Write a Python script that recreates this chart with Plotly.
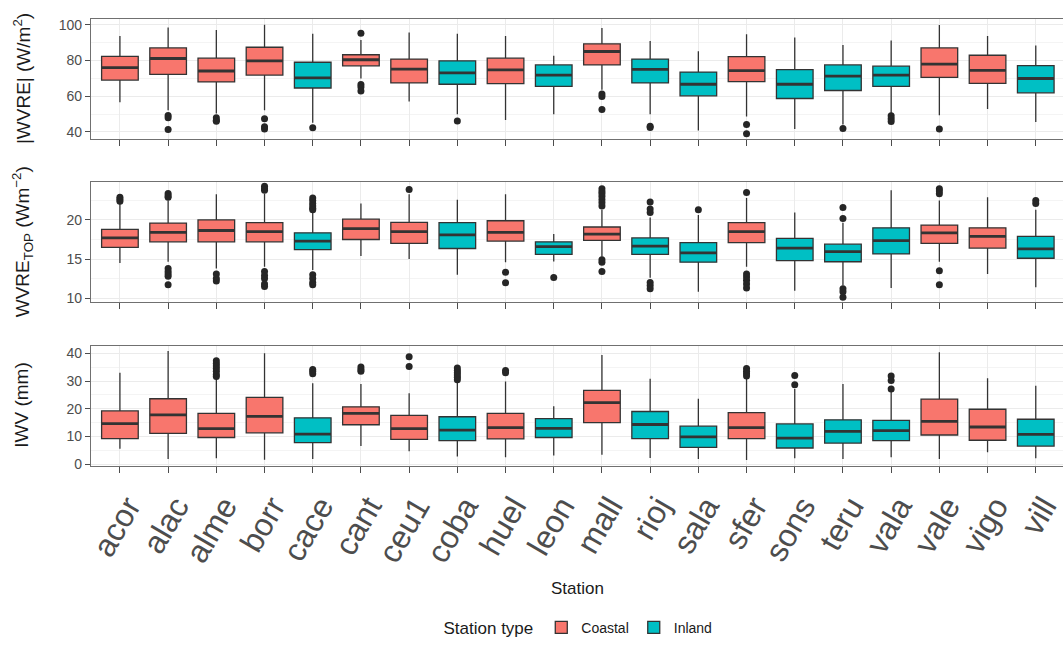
import plotly.graph_objects as go

# ---------------- data ----------------
stations = ["acor", "alac", "alme", "borr", "cace", "cant", "ceu1", "coba", "huel", "leon",
            "mall", "rioj", "sala", "sfer", "sons", "teru", "vala", "vale", "vigo", "vill"]
station_type = ["Coastal", "Coastal", "Coastal", "Coastal", "Inland", "Coastal", "Coastal", "Inland",
                "Coastal", "Inland", "Coastal", "Inland", "Inland", "Coastal", "Inland", "Inland",
                "Inland", "Coastal", "Coastal", "Inland"]

# Panel 1: |WVRE| (W/m2)
wvre_lo = [56.6, 52.2, 50.3, 52.2, 45.1, 69.9, 57.0, 49.9, 46.7, 49.9, 63.6, 49.9, 40.8, 48.6, 41.7, 44.2, 49.9, 49.3, 52.8, 45.5]
wvre_q1 = [69.0, 72.2, 68.0, 71.8, 64.6, 77.0, 67.4, 66.7, 67.0, 65.5, 77.5, 67.4, 60.2, 68.2, 58.7, 63.2, 65.5, 70.5, 67.2, 61.9]
wvre_med = [76.0, 81.1, 74.1, 79.8, 70.3, 80.4, 75.2, 73.1, 74.7, 71.8, 85.0, 75.0, 66.7, 74.3, 66.7, 71.2, 71.8, 77.9, 74.5, 69.9]
wvre_q3 = [82.3, 87.0, 81.3, 87.4, 79.0, 83.2, 80.8, 79.8, 81.3, 77.5, 89.3, 80.8, 73.5, 82.1, 74.9, 77.5, 76.8, 87.0, 82.9, 77.1]
wvre_hi = [93.7, 98.5, 97.0, 100.0, 95.0, 91.4, 95.6, 95.0, 93.7, 82.7, 98.1, 90.9, 85.1, 94.7, 92.8, 88.6, 91.2, 99.8, 93.7, 88.4]
wvre_out_station = ["alac", "alac", "alac", "alme", "alme", "alme", "borr", "borr", "borr", "cace",
                    "cant", "cant", "cant", "cant", "coba", "mall", "mall", "mall", "rioj", "rioj",
                    "sfer", "sfer", "teru", "vala", "vala", "vala", "vale"]
wvre_out_value = [49.2, 48.0, 41.3, 48.0, 46.5, 46.0, 47.4, 42.9, 41.7, 42.3,
                  95.2, 66.5, 65.1, 62.9, 46.1, 61.3, 59.8, 52.6, 43.2, 42.5,
                  44.2, 39.0, 41.9, 49.0, 47.4, 45.9, 41.7]

# Panel 2: WVRE_TOP (W m-2)
top_lo = [14.5, 14.65, 13.8, 14.0, 13.6, 15.4, 15.0, 13.0, 14.6, 14.7, 15.3, 12.6, 10.8, 14.0, 10.95, 11.6, 11.3, 14.65, 13.1, 11.4]
top_q1 = [16.5, 17.2, 17.2, 17.2, 16.2, 17.5, 17.0, 16.35, 17.3, 15.6, 17.4, 15.6, 14.6, 17.1, 14.8, 14.65, 15.65, 17.0, 16.4, 15.1]
top_med = [17.7, 18.4, 18.65, 18.5, 17.3, 18.9, 18.5, 18.1, 18.4, 16.6, 18.2, 16.65, 15.8, 18.5, 16.4, 15.95, 17.35, 18.35, 17.9, 16.3]
top_q3 = [18.8, 19.6, 20.0, 19.65, 18.35, 20.1, 19.7, 19.65, 19.9, 17.2, 19.1, 17.7, 17.1, 19.65, 17.65, 16.9, 19.0, 19.35, 19.0, 17.9]
top_hi = [22.1, 22.5, 23.3, 23.35, 21.0, 22.1, 23.3, 22.6, 23.3, 18.2, 21.3, 20.3, 20.65, 22.8, 20.95, 19.65, 23.8, 22.5, 22.9, 21.3]
top_out_station = (["acor"] * 3 + ["alac"] * 8 + ["alme"] * 3 + ["borr"] * 8 + ["cace"] * 10 +
                   ["ceu1"] + ["huel"] * 2 + ["leon"] + ["mall"] * 10 + ["rioj"] * 6 + ["sala"] +
                   ["sfer"] * 6 + ["teru"] * 5 + ["vale"] * 5 + ["vill"] * 2)
top_out_value = [22.9, 22.65, 22.4,
                 23.4, 23.1, 22.9, 13.8, 13.4, 13.1, 12.8, 11.7,
                 13.1, 12.5, 12.2,
                 24.3, 24.0, 23.8, 13.4, 12.9, 12.5, 11.8, 11.5,
                 22.8, 22.5, 22.1, 21.8, 21.5, 21.3, 13.0, 12.5, 12.0, 11.7,
                 23.9,
                 13.3, 11.96,
                 12.65,
                 24.0, 23.65, 23.35, 23.0, 22.6, 22.2, 21.8, 14.9, 14.6, 13.4,
                 22.3, 21.4, 20.95, 12.0, 11.6, 11.2,
                 21.3,
                 23.5, 13.1, 12.7, 12.3, 11.8, 11.3,
                 21.6, 20.2, 11.2, 10.8, 10.1,
                 24.0, 23.7, 23.35, 13.5, 11.7,
                 22.5, 22.1]

# Panel 3: IWV (mm)
iwv_lo = [5.5, 1.8, 2.1, 1.6, 1.8, 6.5, 4.6, 2.7, 2.5, 3.1, 3.4, 2.2, 1.8, 1.5, 2.1, 1.8, 2.5, 1.8, 4.3, 2.1]
iwv_q1 = [9.2, 11.1, 9.6, 11.3, 7.75, 14.2, 8.9, 8.5, 9.1, 9.6, 15.0, 9.2, 6.0, 9.2, 5.8, 7.6, 8.5, 10.5, 8.6, 6.5]
iwv_med = [14.6, 17.8, 12.8, 17.2, 10.8, 18.3, 12.8, 12.3, 13.2, 12.9, 22.2, 14.3, 9.8, 13.2, 9.4, 11.8, 12.1, 15.4, 13.4, 10.7]
iwv_q3 = [19.2, 23.6, 18.3, 24.1, 16.7, 20.7, 17.6, 17.1, 18.3, 16.4, 26.6, 19.0, 13.7, 18.6, 14.5, 16.0, 15.8, 23.5, 19.8, 16.2]
iwv_hi = [33.0, 40.9, 30.8, 40.0, 29.2, 28.9, 25.6, 29.5, 29.8, 20.9, 39.4, 30.8, 23.6, 30.8, 27.1, 28.9, 26.1, 40.4, 31.0, 28.3]
iwv_out_station = (["alme"] * 7 + ["cace"] * 3 + ["cant"] * 3 + ["ceu1"] * 2 + ["coba"] * 6 +
                   ["huel"] * 2 + ["sfer"] * 4 + ["sons"] * 2 + ["vala"] * 3)
iwv_out_value = [37.3, 36.3, 35.4, 34.5, 33.5, 32.4, 31.6,
                 34.2, 33.5, 32.6,
                 35.1, 34.2, 33.5,
                 38.8, 35.3,
                 34.7, 33.8, 33.0, 32.2, 31.4, 30.5,
                 33.8, 33.0,
                 34.5, 33.5, 32.6, 31.8,
                 32.0, 28.7,
                 31.8, 30.2, 27.1]

y_titles = ["|WVRE| (W/m<sup>2</sup>)", "WVRE<sub>TOP</sub> (Wm<sup>\u22122</sup>)", "IWV (mm)"]
x_title = "Station"
legend_title = "Station type"
type_colors = {"Coastal": "#F8766D", "Inland": "#00BFC4"}

# ---------------- layout geometry ----------------
W, H = 1064, 651
ML = 91
def fy(px):
    return 1 - px / H
def fx(px):
    return (px - ML) / (W - ML)

panel_px = [(17.2, 138.8), (182.7, 303.6), (347.9, 469.5)]
yranges = [[36.0, 103.2], [9.52, 24.8], [-0.6, 42.8]]
dticks = [20, 5, 10]
minor_dticks = [10, 2.5, 5]

panels = [
    (wvre_lo, wvre_q1, wvre_med, wvre_q3, wvre_hi, wvre_out_station, wvre_out_value),
    (top_lo, top_q1, top_med, top_q3, top_hi, top_out_station, top_out_value),
    (iwv_lo, iwv_q1, iwv_med, iwv_q3, iwv_hi, iwv_out_station, iwv_out_value),
]

FONT = "Liberation Sans, Arial, sans-serif"
BORDER = "#707070"
TICKC = "#4d4d4d"

fig = go.Figure()
for p, (lo, q1, med, q3, hi, ost, oval) in enumerate(panels):
    xa = "x" if p == 0 else f"x{p+1}"
    ya = "y" if p == 0 else f"y{p+1}"
    for t in ["Coastal", "Inland"]:
        idx = [i for i, s in enumerate(station_type) if s == t]
        fig.add_trace(go.Box(
            x=[stations[i] for i in idx],
            q1=[q1[i] for i in idx], median=[med[i] for i in idx], q3=[q3[i] for i in idx],
            lowerfence=[lo[i] for i in idx], upperfence=[hi[i] for i in idx],
            name=t, legendgroup=t, showlegend=(p == 0),
            fillcolor=type_colors[t], line=dict(color="#333333", width=1.3),
            whiskerwidth=0, width=0.76, boxpoints=False, hoverinfo="skip",
            xaxis=xa, yaxis=ya,
        ))
    # thicker median line (ggplot style)
    fig.add_trace(go.Scatter(
        x=stations, y=med, mode="markers", showlegend=False, hoverinfo="skip",
        marker=dict(symbol="line-ew", size=26, line=dict(width=2.8, color="#333333")),
        xaxis=xa, yaxis=ya,
    ))
    # outliers
    fig.add_trace(go.Scatter(
        x=ost, y=oval, mode="markers", showlegend=False, hoverinfo="skip",
        marker=dict(color="#262626", size=7),
        xaxis=xa, yaxis=ya,
    ))

layout = dict(
    width=W, height=H,
    margin=dict(l=ML, r=0, t=0, b=0),
    paper_bgcolor="white", plot_bgcolor="white",
    font=dict(family=FONT, color="#1a1a1a"),
    boxmode="overlay",
    legend=dict(
        orientation="h", x=fx(580), xanchor="center", y=fy(634), yanchor="middle",
        title=dict(text=legend_title, side="left", font=dict(size=17)),
        font=dict(size=14), bgcolor="rgba(0,0,0,0)",
        itemwidth=30, tracegroupgap=0,
    ),
    annotations=[],
)

for p in range(3):
    xk = "xaxis" if p == 0 else f"xaxis{p+1}"
    yk = "yaxis" if p == 0 else f"yaxis{p+1}"
    ya = "y" if p == 0 else f"y{p+1}"
    xa = "x" if p == 0 else f"x{p+1}"
    top, bot = panel_px[p]
    layout[xk] = dict(
        type="category", categoryorder="array", categoryarray=stations,
        range=[-0.6, 19.565], domain=[0, 1], anchor=ya,
        showgrid=True, gridcolor="#EBEBEB", gridwidth=1,
        ticks="outside", ticklen=6, tickwidth=1.1, tickcolor=TICKC,
        showline=True, linecolor=BORDER, linewidth=1.3, mirror=True,
        zeroline=False,
        showticklabels=(p == 2),
        tickangle=-60,
        tickfont=dict(size=32, color="#4d4d4d", family=FONT),
    )
    if p == 2:
        layout[xk]["ticklabelshift"] = 8
        layout[xk]["ticklabelstandoff"] = 2
    layout[yk] = dict(
        domain=[fy(bot), fy(top)], anchor=xa,
        range=yranges[p], tick0=0, dtick=dticks[p],
        ticks="outside", ticklen=5, tickwidth=1.1, tickcolor=TICKC,
        showline=True, linecolor=BORDER, linewidth=1.3,
        showgrid=True, gridcolor="#EBEBEB", gridwidth=1,
        minor=dict(dtick=minor_dticks[p], tick0=0, showgrid=True, gridcolor="#F4F4F4", gridwidth=0.6),
        zeroline=False,
        tickfont=dict(size=14, color="#4d4d4d", family=FONT),
    )
    layout["annotations"].append(dict(
        text=y_titles[p], xref="paper", yref="paper",
        x=fx(22), y=fy((top + bot) / 2), xanchor="center", yanchor="middle",
        textangle=-90, showarrow=False, font=dict(size=19, color="#1a1a1a", family=FONT),
    ))

layout["annotations"].append(dict(
    text=x_title, xref="paper", yref="paper", x=fx(578), y=fy(594),
    xanchor="center", yanchor="middle", showarrow=False,
    font=dict(size=17, color="#1a1a1a", family=FONT),
))

fig.update_layout(**layout)
fig.write_html("out.html")
